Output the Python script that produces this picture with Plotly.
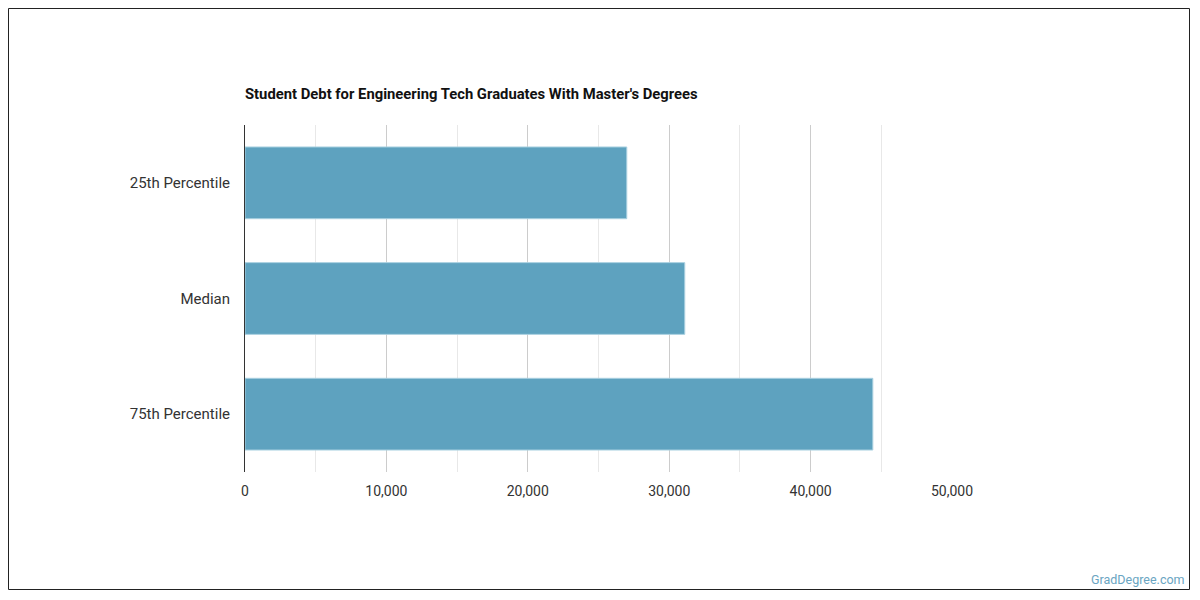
import plotly.graph_objects as go

categories = ["25th Percentile", "Median", "75th Percentile"]
values = [27000, 31100, 44400]
x_ticks = [0, 10000, 20000, 30000, 40000, 50000]
x_tick_labels = ["0", "10,000", "20,000", "30,000", "40,000", "50,000"]

bar_color = "#5ea2bf"

fig = go.Figure(go.Bar(
    x=values, y=categories, orientation="h",
    marker=dict(color=bar_color, line=dict(color="#a9d0e0", width=1)),
    hoverinfo="x+y",
))

# page is rendered with an 8px body margin; figure coords = page coords - 8
OFF = 8
W, H = 1182, 582
L, R, T, B = 245 - OFF, 952 - OFF, 125 - OFF, 472 - OFF
pw, ph = R - L, B - T

def px_x(p):
    return (p - L) / pw

def px_y(p):
    return (B - p) / ph

fig.update_layout(
    width=W, height=H,
    margin=dict(l=L, r=W - R, t=T, b=H - B),
    paper_bgcolor="white", plot_bgcolor="white",
    font=dict(family="Roboto", color="#333333", size=14),
    bargap=0.38,
    showlegend=False,
    xaxis=dict(
        range=[0, 50000], tickvals=x_ticks, ticktext=x_tick_labels,
        showgrid=True, gridcolor="#cccccc", gridwidth=1,
        minor=dict(dtick=5000, tick0=0, showgrid=True, gridcolor="#e8e8e8", gridwidth=1),
        zeroline=False, showline=False, ticks="", ticklabelstandoff=9,
        tickfont=dict(size=14, color="#333333"),
        fixedrange=True,
    ),
    yaxis=dict(
        categoryorder="array", categoryarray=categories, autorange="reversed",
        showgrid=False, zeroline=False,
        showline=True, linecolor="#333333", linewidth=1,
        ticks="", ticklabelstandoff=11,
        tickfont=dict(size=15, color="#333333"),
        fixedrange=True,
    ),
    shapes=[dict(
        type="rect", xref="paper", yref="paper",
        x0=px_x(0.5), x1=px_x(W - 0.5), y0=px_y(H - 0.5), y1=px_y(0.5),
        line=dict(color="#222222", width=1), fillcolor="rgba(0,0,0,0)", layer="below",
    )],
    annotations=[
        dict(text="<b>Student Debt for Engineering Tech Graduates With Master's Degrees</b>",
             xref="paper", yref="paper", x=px_x(243 - OFF), y=px_y(94 - OFF),
             xanchor="left", yanchor="middle", showarrow=False,
             font=dict(family="Roboto", size=14.8, color="#111111")),
        dict(text="GradDegree.com", xref="paper", yref="paper",
             x=px_x(1187 - OFF), y=px_y(579 - OFF), xanchor="right", yanchor="middle",
             showarrow=False, font=dict(family="Roboto", size=12.5, color="#6aa5c2")),
    ],
)

fig.write_html("out.html")
